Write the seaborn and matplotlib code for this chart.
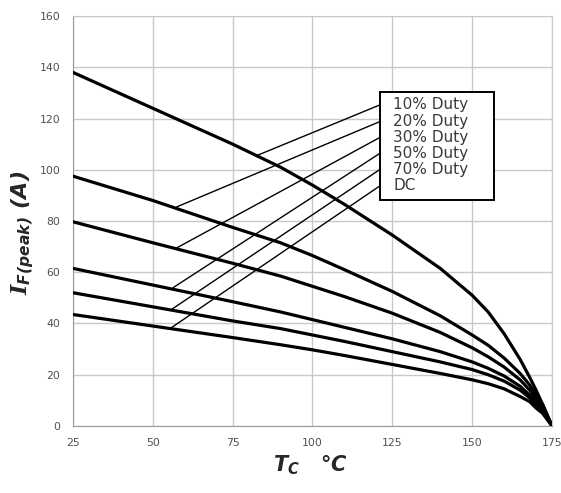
import pandas as pd
import matplotlib.pyplot as plt
import seaborn as sns
from matplotlib.patches import Rectangle

# Case temperature (deg C) and peak forward current (A)
temps = [25, 50, 75, 90, 100, 110, 125, 140, 150, 155, 160, 165, 168, 170, 172, 175]
duty_10 = [138, 124, 110, 101, 94, 86.5, 74.5, 61.5, 51, 44.5, 36, 26, 19, 14, 8.5, 0]
duty_20 = [97.5, 88, 77.5, 71.5, 66.5, 61, 52.5, 43, 35.5, 31.5, 26.5, 20.5, 16, 12, 8.5, 0]
duty_30 = [79.7, 71.5, 63.5, 58.5, 54.5, 50.5, 44, 36.5, 30.5, 27, 23, 18, 14, 10.5, 7.5, 0]
duty_50 = [61.5, 55, 48.5, 44.5, 41.5, 38.5, 34, 29, 25, 22.5, 19.5, 15.5, 12, 9, 6.5, 0]
duty_70 = [52, 46.5, 41, 38, 35.5, 33, 29, 25, 22, 20, 17.5, 14, 11, 8, 6, 0]
dc = [43.5, 39, 34.5, 31.7, 29.7, 27.5, 24, 20.5, 18, 16.5, 14.5, 11.5, 9.5, 7, 5, 0]

labels = ['10% Duty', '20% Duty', '30% Duty', '50% Duty', '70% Duty', 'DC']
series = [duty_10, duty_20, duty_30, duty_50, duty_70, dc]

# leader lines: point on curve -> left edge of the label box
leader_t = [82.5, 57.5, 57.5, 56.4, 55.9, 55.4]
leader_i = [105.5, 85.5, 69.5, 54, 45.5, 38]
label_t = 121.1
label_i = [125.3, 118.8, 112.6, 106.4, 100.1, 93.7]

rows = []
for name, vals in zip(labels, series):
    for t, v in zip(temps, vals):
        rows.append({'Tc': t, 'I': v, 'series': name})
df = pd.DataFrame(rows)

sns.set_style("white")
plt.rcParams['font.family'] = ['DejaVu Sans']
plt.rcParams['mathtext.fontset'] = 'custom'
plt.rcParams['mathtext.it'] = 'DejaVu Serif:italic:bold'
plt.rcParams['mathtext.bf'] = 'DejaVu Sans:italic:bold'

fig, ax = plt.subplots(figsize=(5.61, 4.93), dpi=100)
fig.subplots_adjust(left=0.130, right=0.984, bottom=0.136, top=0.9675)

sns.lineplot(data=df, x='Tc', y='I', hue='series', palette=['black'] * 6,
             linewidth=2.3, legend=False, sort=False, ax=ax, zorder=3)

for t0, i0, i1 in zip(leader_t, leader_i, label_i):
    ax.plot([t0, label_t], [i0, i1], color='black', lw=1.0, zorder=4)

# label box
ax.add_patch(Rectangle((label_t, 88.2), 35.8, 42.3, facecolor='white',
                       edgecolor='black', lw=1.4, zorder=5))
for txt, yi in zip(labels, label_i):
    ax.text(125.3, yi, txt, fontsize=11, color='#3a3a3a', va='center',
            ha='left', zorder=6)

ax.set_xlim(25, 175)
ax.set_ylim(0, 160)
ax.set_xticks(range(25, 176, 25))
ax.set_yticks(range(0, 161, 20))
ax.grid(True, color='#c8c8c8', lw=1)
ax.tick_params(length=0, labelsize=7.8, labelcolor='#505050')
ax.tick_params(axis='y', pad=9)
ax.tick_params(axis='x', pad=9)
for side in ['left', 'bottom']:
    ax.spines[side].set_color('#9a9a9a')
for side in ['top', 'right']:
    ax.spines[side].set_color('#c8c8c8')

ax.set_xlabel(r'$\mathbf{T}_{\mathbf{C}}$   °C', fontsize=15, fontweight='bold',
              fontstyle='italic')
ax.set_ylabel(r'$\mathit{I}_{\mathbf{F(peak)}}$ (A)', fontsize=16,
              fontweight='bold', fontstyle='italic')
ax.xaxis.set_label_coords(0.495, -0.068)
ax.yaxis.set_label_coords(-0.078, 0.47)

plt.savefig('out.png', dpi=100)
